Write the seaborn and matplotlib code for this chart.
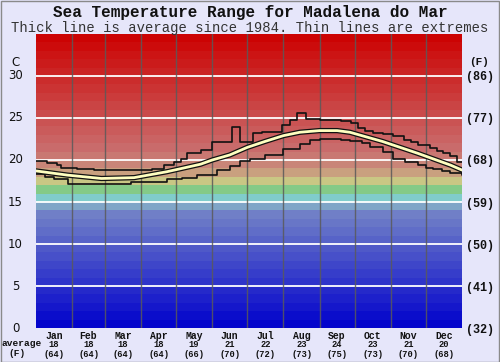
import numpy as np
import pandas as pd
import matplotlib
matplotlib.use("Agg")
import matplotlib.pyplot as plt
import seaborn as sns
from matplotlib.colors import LinearSegmentedColormap, ListedColormap
from matplotlib.patches import Rectangle
from matplotlib.transforms import blended_transform_factory

# ---- data ----
months = ['Jan', 'Feb', 'Mar', 'Apr', 'May', 'Jun', 'Jul', 'Aug', 'Sep', 'Oct', 'Nov', 'Dec']
month_start = [0, 31, 59, 90, 120, 151, 181, 212, 243, 273, 304, 334, 365]
avg_c = [18, 18, 18, 18, 19, 21, 22, 23, 24, 23, 21, 20]
avg_f = [64, 64, 64, 64, 66, 70, 72, 73, 75, 73, 70, 68]

c_ticks = [0, 5, 10, 15, 20, 25, 30]
f_ticks = [32, 41, 50, 59, 68, 77, 86]

mean_day = [0, 27, 56, 84, 112, 125, 141, 151, 166, 181, 196, 212, 226, 243, 258, 269, 297, 327, 355, 365]
mean_temp = [18.7, 18.2, 17.8, 17.9, 18.6, 19.0, 19.5, 20.0, 20.6, 21.5, 22.2, 22.9, 23.3, 23.5, 23.5, 23.3, 22.2, 20.8, 19.4, 18.8]

max_day = [0, 9, 18, 21, 35, 50, 89, 99, 110, 118, 124, 129, 141, 151, 168, 175, 186, 194, 211, 218, 224,
           231, 243, 261, 270, 276, 282, 289, 297, 306, 315, 321, 327, 338, 344, 349, 355, 361, 365]
max_temp = [19.9, 19.6, 19.4, 19.0, 18.9, 18.8, 18.8, 18.9, 19.4, 19.8, 20.1, 20.8, 21.2, 22.1, 23.9, 22.1, 23.2, 23.3, 24.2, 24.8, 25.6,
            24.9, 24.8, 24.6, 24.4, 23.8, 23.5, 23.2, 23.1, 22.8, 22.4, 22.1, 21.8, 21.4, 21.1, 20.8, 20.5, 19.8, 19.8]

min_day = [0, 8, 15, 27, 56, 81, 98, 112, 125, 138, 155, 166, 175, 183, 196, 212, 226, 235, 243, 261, 269,
           279, 286, 297, 306, 316, 327, 334, 340, 348, 355, 365]
min_temp = [18.3, 18.0, 17.7, 17.2, 17.1, 17.35, 17.4, 17.7, 17.9, 18.2, 18.8, 19.3, 19.9, 20.1, 20.6, 21.3, 21.9, 22.4, 22.5, 22.4, 22.3,
            22.0, 21.6, 21.0, 20.1, 19.8, 19.4, 19.1, 18.9, 18.7, 18.5, 18.2]

# ---- styling ----
bg = '#e6e6fa'
mono = 'Liberation Mono'
sns.set_style("white")
plt.rcParams['font.family'] = ['DejaVu Sans']

fig = plt.figure(figsize=(5.0, 3.62), dpi=100, facecolor=bg)
ax = fig.add_axes([0.072, 0.0939, 0.852, 0.8122])
ax.set_facecolor(bg)

# temperature colour bands, one per degree
band_cmap = LinearSegmentedColormap.from_list('sea', [
    (0.0, (0.0, 0.0, 0.80)),
    (13.5 / 35, (0.44, 0.50, 0.78)),
    (14.5 / 35, (0.50, 0.64, 0.78)),
    (15.5 / 35, (0.50, 0.80, 0.80)),
    (16.5 / 35, (0.52, 0.79, 0.52)),
    (17.5 / 35, (0.79, 0.79, 0.52)),
    (18.5 / 35, (0.79, 0.63, 0.50)),
    (19.5 / 35, (0.79, 0.52, 0.47)),
    (21.5 / 35, (0.79, 0.42, 0.42)),
    (1.0, (0.80, 0.0, 0.0)),
])
edges = np.arange(0, 36)
centres = (edges[:-1] + 0.5) / 35
bands = ListedColormap([band_cmap(v) for v in centres])
ax.pcolormesh([0, 365], edges, np.arange(35).reshape(-1, 1), cmap=bands, vmin=-0.5, vmax=34.5)

for t in c_ticks[1:]:
    ax.axhline(t, color='white', lw=1.3, zorder=2)
for d in month_start[1:-1]:
    ax.axvline(d, color='#5a5a5a', lw=1.0, alpha=0.85, zorder=2)

# extremes and average
ext = pd.DataFrame({'day': max_day, 'temp': max_temp})
sns.lineplot(data=ext, x='day', y='temp', ax=ax, color='#111111', lw=1.2,
             drawstyle='steps-post', estimator=None, zorder=3)
ext = pd.DataFrame({'day': min_day, 'temp': min_temp})
sns.lineplot(data=ext, x='day', y='temp', ax=ax, color='#111111', lw=1.2,
             drawstyle='steps-post', estimator=None, zorder=3)
avg = pd.DataFrame({'day': mean_day, 'temp': mean_temp})
sns.lineplot(data=avg, x='day', y='temp', ax=ax, color='#111111', lw=3.8, estimator=None, zorder=4)
sns.lineplot(data=avg, x='day', y='temp', ax=ax, color='#ffffc0', lw=2.0, estimator=None, zorder=5)

ax.set_xlim(0, 365)
ax.set_ylim(0, 35)
ax.set_xlabel('')
ax.set_ylabel('')
for s in ax.spines.values():
    s.set_visible(False)

# left celsius labels
ax.set_yticks(c_ticks)
ax.set_yticklabels([])
ax.tick_params(axis='y', length=0)
ltr = blended_transform_factory(fig.transFigure, ax.transData)
for t in c_ticks:
    ax.text(0.031, t, str(t), transform=ltr, ha='center', va='center', fontsize=8.5, color='#111111')

# right fahrenheit labels
ax2 = ax.twinx()
ax2.set_ylim(0, 35)
ax2.set_yticks(c_ticks)
ax2.set_yticklabels([f'({f})' for f in f_ticks], fontsize=8.5, family=mono, weight='bold', color='#111111')
ax2.tick_params(axis='y', length=0, pad=3)
for s in ax2.spines.values():
    s.set_visible(False)

# month labels and averages
mid = [(a + b) / 2 for a, b in zip(month_start[:-1], month_start[1:])]
ax.set_xticks(mid)
ax.set_xticklabels(months, fontsize=7, family=mono, weight='bold', color='#111111')
ax.tick_params(axis='x', length=0, pad=2)
tr = blended_transform_factory(ax.transData, ax.transAxes)
for m, c, f in zip(mid, avg_c, avg_f):
    ax.text(m, -0.055, str(c), transform=tr, ha='center', va='center', fontsize=6.3,
            family=mono, weight='bold', color='#111111')
    ax.text(m, -0.09, f'({f})', transform=tr, ha='center', va='center', fontsize=6.3,
            family=mono, weight='bold', color='#111111')
fig.text(0.043, 1 - 343 / 362, 'average', ha='center', va='center', fontsize=6.8,
         family=mono, weight='bold', color='#111111')
fig.text(0.033, 1 - 353 / 362, '(F)', ha='center', va='center', fontsize=6.8,
         family=mono, weight='bold', color='#111111')

# unit headers
fig.text(0.032, 1 - 62 / 362, 'C', ha='center', va='center', fontsize=8.5, color='#111111')
fig.text(0.958, 1 - 62 / 362, '(F)', ha='center', va='center', fontsize=8, family=mono,
         weight='bold', color='#111111')

# titles
fig.text(0.5, 1 - 13 / 362, 'Sea Temperature Range for Madalena do Mar', ha='center', va='center',
         fontsize=11.5, family=mono, weight='bold', color='#111111')
fig.text(0.5, 1 - 28 / 362, 'Thick line is average since 1984. Thin lines are extremes', ha='center',
         va='center', fontsize=10, family=mono, color='#333333')

fig.patches.append(Rectangle((0.001, 0.001), 0.997, 0.997, transform=fig.transFigure, fill=False,
                             edgecolor='#8a8a8a', lw=1))

fig.savefig('out.png', dpi=100, facecolor=bg)
